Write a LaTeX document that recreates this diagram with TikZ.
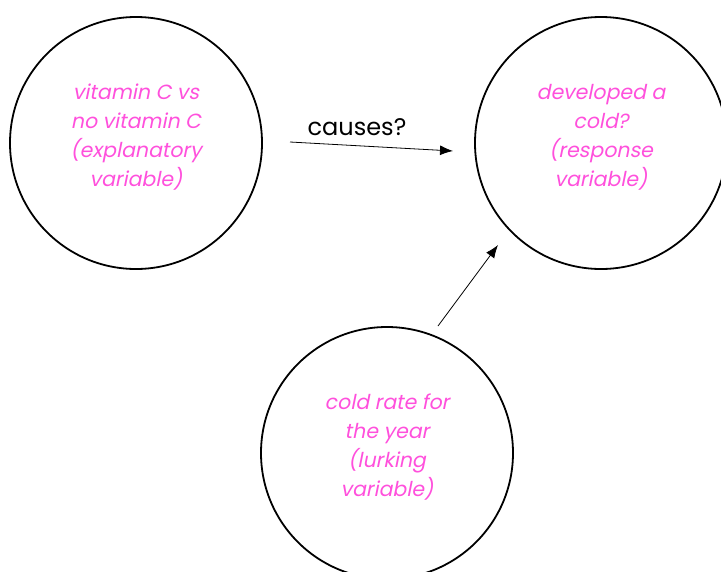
\documentclass[tikz,border=0pt]{standalone}
\usepackage{fontspec}
\usetikzlibrary{arrows.meta}
\setmainfont{Poppins}
\newfontfamily\slantfont[FakeSlant=0.2]{Poppins}
\definecolor{varpink}{RGB}{255,80,220}

\begin{document}
\begin{tikzpicture}[x=1pt,y=-1pt,
    var/.style={circle, draw, line width=1.8pt, minimum size=252pt, inner sep=0pt,
      align=center, text=varpink, font=\slantfont\fontsize{20.5}{29}\selectfont},
    link/.style={-{Latex[length=13pt,width=10pt]}, line width=0.8pt}]
    \useasboundingbox (0,0) rectangle (721,571);

    % Draw the three variables
    \node[var] (expl) at (136,143) {vitamin C vs\\no vitamin C\\(explanatory\\variable)\\[-14pt]\mbox{}};
    \node[var] (resp) at (601,143) {developed a\\cold?\\(response\\variable)\\[-14pt]\mbox{}};
    \node[var] (lurk) at (387,453) {cold rate for\\the year\\(lurking\\variable)\\[-14pt]\mbox{}};

    % Draw the arrows
    \coordinate (a1) at (290,142);
    \coordinate (a2) at (453,151);
    \coordinate (b1) at (438,326);
    \coordinate (b2) at (498,245);
    \draw[link] (a1) -- (a2);
    \draw[link] (b1) -- (b2);

    \node[font=\fontsize{24}{26}\selectfont] (cause) at (357,127) {causes?};
\end{tikzpicture}
\end{document}
